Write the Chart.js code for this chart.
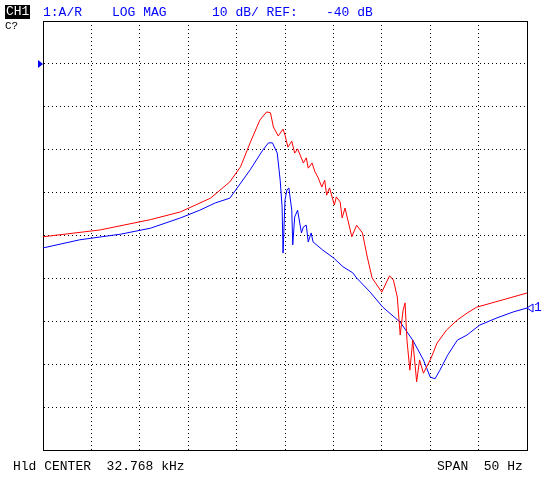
<!DOCTYPE html>
<html>
<head>
<meta charset="utf-8">
<script src="https://cdn.jsdelivr.net/npm/chart.js@4"></script>
<style>
  body { margin: 0; background: #fff; }
  #wrap { position: relative; width: 548px; height: 480px; }
  .t { position: absolute; font-family: "Liberation Mono", "DejaVu Sans Mono", monospace; font-size: 13px; line-height: 14px; white-space: pre; }
  .blue { color: #0000ff; }
</style>
</head>
<body>
<div id="wrap">
  <canvas id="c" width="548" height="480"></canvas>
  <div class="t" style="left:5px;top:5px;background:#000;color:#fff;padding:0 1px;">CH1</div>
  <div class="t" style="left:5px;top:19px;font-size:11px;">C?</div>
  <div class="t blue" style="left:43px;top:6px;">1:A/R</div>
  <div class="t blue" style="left:112px;top:6px;">LOG MAG</div>
  <div class="t blue" style="left:212px;top:6px;">10 dB/ REF:</div>
  <div class="t blue" style="left:326px;top:6px;">-40 dB</div>
  <div class="t" style="left:13px;top:460px;">Hld CENTER  32.768 kHz</div>
  <div class="t" style="left:437px;top:460px;">SPAN  50 Hz</div>
</div>
<script>
// frequency offset from 32.768 kHz centre (Hz) and level (dB)
const redHz = [-25.0,-19.1,-13.9,-10.8,-7.7,-5.7,-4.6,-3.6,-2.6,-1.9,-1.5,-1.2,-0.7,-0.2,0.0,0.3,0.7,1.0,1.3,1.9,2.2,2.4,2.8,3.1,3.4,3.8,4.1,4.3,4.6,5.1,5.3,5.7,5.9,6.2,6.9,7.4,8.0,8.5,9.0,10.0,10.8,11.2,11.6,11.9,12.2,12.4,12.6,12.9,13.2,13.6,13.9,14.3,15.0,15.3,15.7,16.7,17.8,18.8,19.8,22.5,25.0];
const redDb = [-80.3,-78.7,-76.3,-74.5,-71.3,-67.5,-64.0,-58.4,-53.1,-51.2,-51.4,-54.7,-56.8,-55.2,-56.6,-59.4,-58.0,-60.8,-59.8,-63.1,-61.9,-64.3,-63.1,-65.2,-66.4,-68.7,-67.1,-70.6,-68.9,-72.9,-71.0,-72.2,-75.9,-73.6,-80.3,-77.6,-79.4,-85.0,-89.9,-93.2,-89.4,-90.4,-94.3,-103.2,-97.4,-95.7,-104.4,-111.4,-104.4,-114.1,-109.0,-112.1,-109.0,-107.4,-105.1,-102.0,-99.7,-98.1,-96.7,-95.0,-93.4];
const blueHz = [-25.0,-21.2,-17.0,-13.9,-10.8,-8.8,-7.2,-5.7,-3.6,-2.3,-1.7,-1.3,-0.8,-0.5,-0.3,-0.2,0.0,0.2,0.4,0.7,0.8,1.0,1.3,1.7,1.9,2.2,2.4,2.7,2.9,3.9,5.0,6.0,7.0,7.4,8.8,10.1,11.9,13.2,14.3,15.0,15.5,16.0,16.8,17.8,18.8,20.1,21.9,23.6,25.0];
const blueDb = [-82.9,-81.0,-79.7,-78.3,-75.9,-74.1,-72.4,-71.3,-64.7,-60.1,-58.4,-58.4,-60.8,-67.1,-73.4,-84.1,-71.7,-69.4,-68.9,-74.1,-82.2,-75.7,-74.1,-79.4,-78.0,-77.6,-81.5,-79.4,-81.5,-83.4,-85.2,-87.3,-88.7,-89.9,-93.2,-96.7,-100.2,-104.4,-109.0,-113.0,-113.4,-111.4,-107.9,-104.4,-103.2,-100.9,-99.2,-97.8,-96.9];
const refDb = -40;

const pts = (xs, ys) => xs.map((x, i) => ({ x, y: ys[i] }));

// reference arrow on the left, trace marker on the right
const markers = {
  id: 'markers',
  afterDraw(chart) {
    const { ctx, scales: { x, y } } = chart;
    const ry = y.getPixelForValue(refDb);
    ctx.save();
    ctx.fillStyle = '#0000ff';
    ctx.beginPath();
    ctx.moveTo(x.left - 5, ry - 4); ctx.lineTo(x.left, ry); ctx.lineTo(x.left - 5, ry + 4);
    ctx.fill();
    const ey = y.getPixelForValue(blueDb[blueDb.length - 1]);
    ctx.strokeStyle = '#0000ff';
    ctx.beginPath();
    ctx.moveTo(x.right + 6, ey - 4); ctx.lineTo(x.right, ey); ctx.lineTo(x.right + 6, ey + 4); ctx.closePath();
    ctx.stroke();
    ctx.font = '13px "Liberation Mono", monospace';
    ctx.textBaseline = 'middle';
    ctx.fillText('1', x.right + 7, ey);
    ctx.restore();
  }
};

new Chart(document.getElementById('c'), {
  type: 'scatter',
  data: {
    datasets: [
      { data: pts(redHz, redDb), showLine: true, borderColor: '#ff0000', borderWidth: 1, pointRadius: 0, tension: 0 },
      { data: pts(blueHz, blueDb), showLine: true, borderColor: '#0000ff', borderWidth: 1, pointRadius: 0, tension: 0 }
    ]
  },
  options: {
    responsive: false,
    animation: false,
    layout: { padding: { left: 43, top: 21, right: 21, bottom: 30 } },
    plugins: { legend: { display: false }, tooltip: { enabled: false } },
    scales: {
      x: {
        min: -25, max: 25,
        ticks: { display: false, stepSize: 5 },
        grid: { color: '#000', lineWidth: 1, drawTicks: false, tickLength: 0 },
        border: { color: '#000', width: 1, dash: [1, 3] }
      },
      y: {
        min: -130, max: -30,
        ticks: { display: false, stepSize: 10 },
        grid: { color: '#000', lineWidth: 1, drawTicks: false, tickLength: 0 },
        border: { color: '#000', width: 1, dash: [1, 3] }
      }
    }
  },
  plugins: [markers, {
    id: 'frame',
    beforeDatasetsDraw(chart) {
      const { ctx, chartArea: a } = chart;
      ctx.save();
      ctx.strokeStyle = '#000';
      ctx.lineWidth = 1;
      ctx.strokeRect(a.left + 0.5, a.top + 0.5, a.right - a.left, a.bottom - a.top);
      ctx.restore();
    }
  }]
});
</script>
</body>
</html>
